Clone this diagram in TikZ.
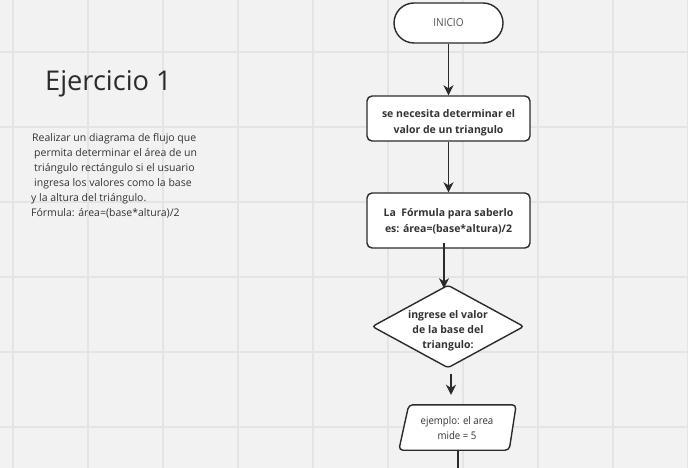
\documentclass[tikz,border=0pt]{standalone}
\usepackage{fontspec}
\setmainfont{Open Sans}
\newfontfamily\narrow[FakeStretch=0.92]{Open Sans}
\usetikzlibrary{arrows.meta,shapes.geometric}
\definecolor{bg}{HTML}{F2F2F2}
\definecolor{gridc}{HTML}{E4E4E4}
\definecolor{ink}{HTML}{2B2B2B}
\definecolor{txt}{HTML}{333333}
\definecolor{soft}{HTML}{555555}
\tikzset{
  gridline/.style={draw=gridc, line width=2pt},
  box/.style={draw=ink, line width=1.4pt, fill=white, rounded corners=5pt, inner sep=0pt},
  btext/.style={align=center, text=txt, font=\fontsize{10.5}{15.5}\selectfont\bfseries, inner sep=0pt},
  conn/.style={draw=ink, line width=1.6pt, -{Stealth[length=10pt,width=10pt,inset=3pt]}},
  plain/.style={draw=ink, line width=1.6pt},
  para/.style={anchor=base west, inner sep=0pt, text=txt, font=\fontsize{10.5}{15}\selectfont},
}
\begin{document}
\begin{tikzpicture}[x=1pt,y=-1pt]
\fill[bg] (0,0) rectangle (688,468);
\useasboundingbox (0,0) rectangle (688,468);
\foreach \gx in {12.5,87.5,...,690} \draw[gridline] (\gx,0) -- (\gx,468);
\foreach \gy in {52,127,...,460} \draw[gridline] (0,\gy) -- (688,\gy);

% left texts
\node[anchor=base west, inner sep=0pt, text=ink, font=\fontsize{27.2}{30}\selectfont] (title) at (45,91) {Ejercicio 1};
\node[para] (p1) at (32,142) {Realizar un diagrama de flujo que};
\node[para] (p2) at (34,157) {permita determinar el área de un};
\node[para] (p3) at (34,171.5) {triángulo rectángulo si el usuario};
\node[para] (p4) at (34,186.5) {ingresa los valores como la base};
\node[para] (p5) at (31,201) {y la altura del triángulo.};
\node[para] (p6) at (31,216) {Fórmula: área=(base*altura)/2};

% flowchart
\node[box, font=\narrow\fontsize{11}{15}\selectfont, text=soft, rounded corners=20pt, minimum width=109pt, minimum height=40pt] (ini) at (448.5,23) {INICIO};
\node[box, minimum width=163pt, minimum height=45pt] (b1) at (448.5,118.5) {};
\node[btext] (b1t) at (448.5,123) {se necesita determinar el\\valor de un triangulo};
\node[box, minimum width=163pt, minimum height=55pt] (b2) at (448.5,220.5) {};
\node[btext] (b2t) at (448.5,221.5) {La\ \ Fórmula para saberlo\\es: área=(base*altura)/2};
\node[draw=ink, line width=1.4pt, fill=white, diamond, rounded corners=3pt, minimum width=152pt, minimum height=83pt, inner sep=0pt] (d) at (448,326.5) {};
\node[btext, font=\fontsize{10.5}{15}\selectfont\bfseries] (dt) at (448,331) {ingrese el valor\\de la base del\\triangulo:};
\node[minimum width=110pt, minimum height=45pt, inner sep=0pt] (p) at (458,427.5) {};
\draw[draw=ink, line width=1.4pt, fill=white, rounded corners=4pt]
  ([xshift=-4pt]p.south west) -- ([xshift=6pt]p.north west) -- ([xshift=3pt]p.north east) -- ([xshift=-4pt]p.south east) -- cycle;
\node[align=center, text=txt, font=\narrow\fontsize{10.5}{15}\selectfont, inner sep=0pt] (pt) at (457,428) {ejemplo: el area\\mide = 5};
\coordinate (pend) at (458,468);

% connectors
\draw[conn] (ini.south) -- (b1.north);
\draw[conn] (b1.south) -- (b2.north);
\draw[conn, shorten <=-6pt, shorten >=-4pt] ([xshift=-4.5pt]b2.south) -- ([xshift=-4.5pt]b2.south |- d.north);
\draw[conn, shorten <=5pt, shorten >=10pt] ([xshift=3pt]d.south) -- ([xshift=3pt]d.south |- p.north);
\draw[plain] (p.south) -- (pend);
\end{tikzpicture}
\end{document}
